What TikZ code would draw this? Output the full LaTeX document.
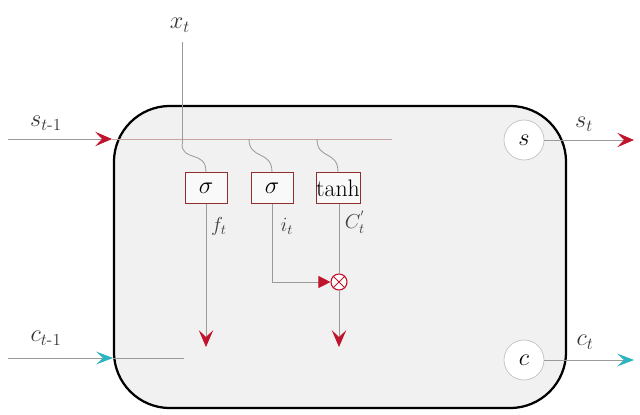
\documentclass[tikz,border=0pt]{standalone}
\usepackage{amsmath}
\usetikzlibrary{arrows.meta}
\definecolor{arrred}{HTML}{C0142E}
\definecolor{arrcyan}{HTML}{2BB3C0}
\definecolor{boxred}{HTML}{8E2E2E}
\definecolor{linegray}{HTML}{9A9A9A}
\definecolor{linepink}{HTML}{C9A3A3}
\definecolor{cellfill}{HTML}{F1F1F1}
\tikzset{
  lab/.style={font=\fontsize{18}{20}\selectfont, text=black!80, inner sep=0pt},
  smalllab/.style={font=\fontsize{14}{16}\selectfont, text=black!75, inner sep=0pt},
  gate/.style={draw=boxred, line width=0.6pt, fill=white!60!cellfill, minimum width=1.05cm, minimum height=0.78cm, inner sep=0pt, font=\fontsize{17}{19}\selectfont},
  state/.style={circle, draw=linegray!70, line width=0.4pt, fill=white, minimum size=1.0cm, inner sep=0pt, font=\fontsize{16}{18}\selectfont},
  wire/.style={draw=linegray, line width=0.6pt},
  pwire/.style={draw=linepink, line width=0.6pt},
  redarr/.style={-{Stealth[length=0.42cm, width=0.36cm, inset=0.17cm, arrred]}},
  cyanarr/.style={-{Stealth[length=0.42cm, width=0.32cm, inset=0.17cm, arrcyan]}},
  triarr/.style={-{Triangle[length=0.3cm, width=0.3cm, arrred]}},
}
\begin{document}
\begin{tikzpicture}[x=0.025cm, y=-0.025cm]
\useasboundingbox (0,0) rectangle (640,415);
% cell
\node[draw=black, line width=1.6pt, fill=cellfill, rounded corners=1.4cm, minimum width=11.3cm, minimum height=7.55cm, inner sep=0pt] (cell) at (340,257) {};
% coordinates
\coordinate (sin) at (8,139);
\coordinate (sent) at (112,139);
\coordinate (send) at (392,139);
\coordinate (cin) at (8,358);
\coordinate (cent) at (113,358);
\coordinate (cend) at (184,358);
\coordinate (xtop) at (182,42);
\coordinate (xbend) at (182,144);
\coordinate (b2) at (249,139);
\coordinate (b3) at (317,139);
\coordinate (fend) at (206,347);
\coordinate (iturn) at (272,282);
\coordinate (cpend) at (339,347);
\coordinate (sout) at (634,140);
\coordinate (cout) at (634,360);
% gates
\node[gate] (g1) at (206,188) {$\sigma$};
\node[gate] (g2) at (272,188) {$\sigma$};
\node[gate] (g3) at (338,188) {tanh};
\node[circle, draw=arrred, line width=0.8pt, minimum size=0.4cm, inner sep=0pt, fill=white] (mul) at (339,282) {};
\draw[arrred, line width=0.7pt] (mul.north west) -- (mul.south east) (mul.north east) -- (mul.south west);
\node[state] (sc) at (524,140) {$s$};
\node[state] (cc) at (524,360) {$c$};
% labels
\node[lab] (lsin) at (46,123) {$s_{t\text{-}1}$};
\node[lab] (lcin) at (46,338) {$c_{t\text{-}1}$};
\node[lab] (lx) at (180,25) {$x_{t}$};
\node[lab] (lst) at (584,124) {$s_{t}$};
\node[lab] (lct) at (585,342) {$c_{t}$};
\node[smalllab] (lf) at (219,226) {$f_{t}$};
\node[smalllab] (li) at (287,226) {$i_{t}$};
\node[smalllab] (lc) at (355,222) {$C_{t}^{'}$};
% s line
\draw[wire, redarr] (sin) -- (sent);
\draw[pwire] (sent) -- (send);
% c line
\draw[wire, cyanarr] (cin) -- (cent);
\draw[wire] (cent) -- (cend);
% x line
\draw[wire] (xtop) -- (xbend);
\draw[wire] (xbend) .. controls (182,162) and (206,150) .. (g1.north);
\draw[wire] (b2) .. controls (249,160) and (272,150) .. (g2.north);
\draw[wire] (b3) .. controls (317,160) and (338,150) .. (g3.north);
% gate outputs
\draw[wire, redarr] (g1.south) -- (fend);
\draw[wire] (g2.south) -- (iturn);
\draw[wire, triarr] (iturn) -- (mul.west);
\draw[wire] (g3.south -| mul.north) -- (mul.north);
\draw[wire, redarr] (mul.south) -- (cpend);
% outputs
\draw[wire, redarr] (sc.east) -- (sout);
\draw[wire, cyanarr] (cc.east) -- (cout);
\end{tikzpicture}
\end{document}
